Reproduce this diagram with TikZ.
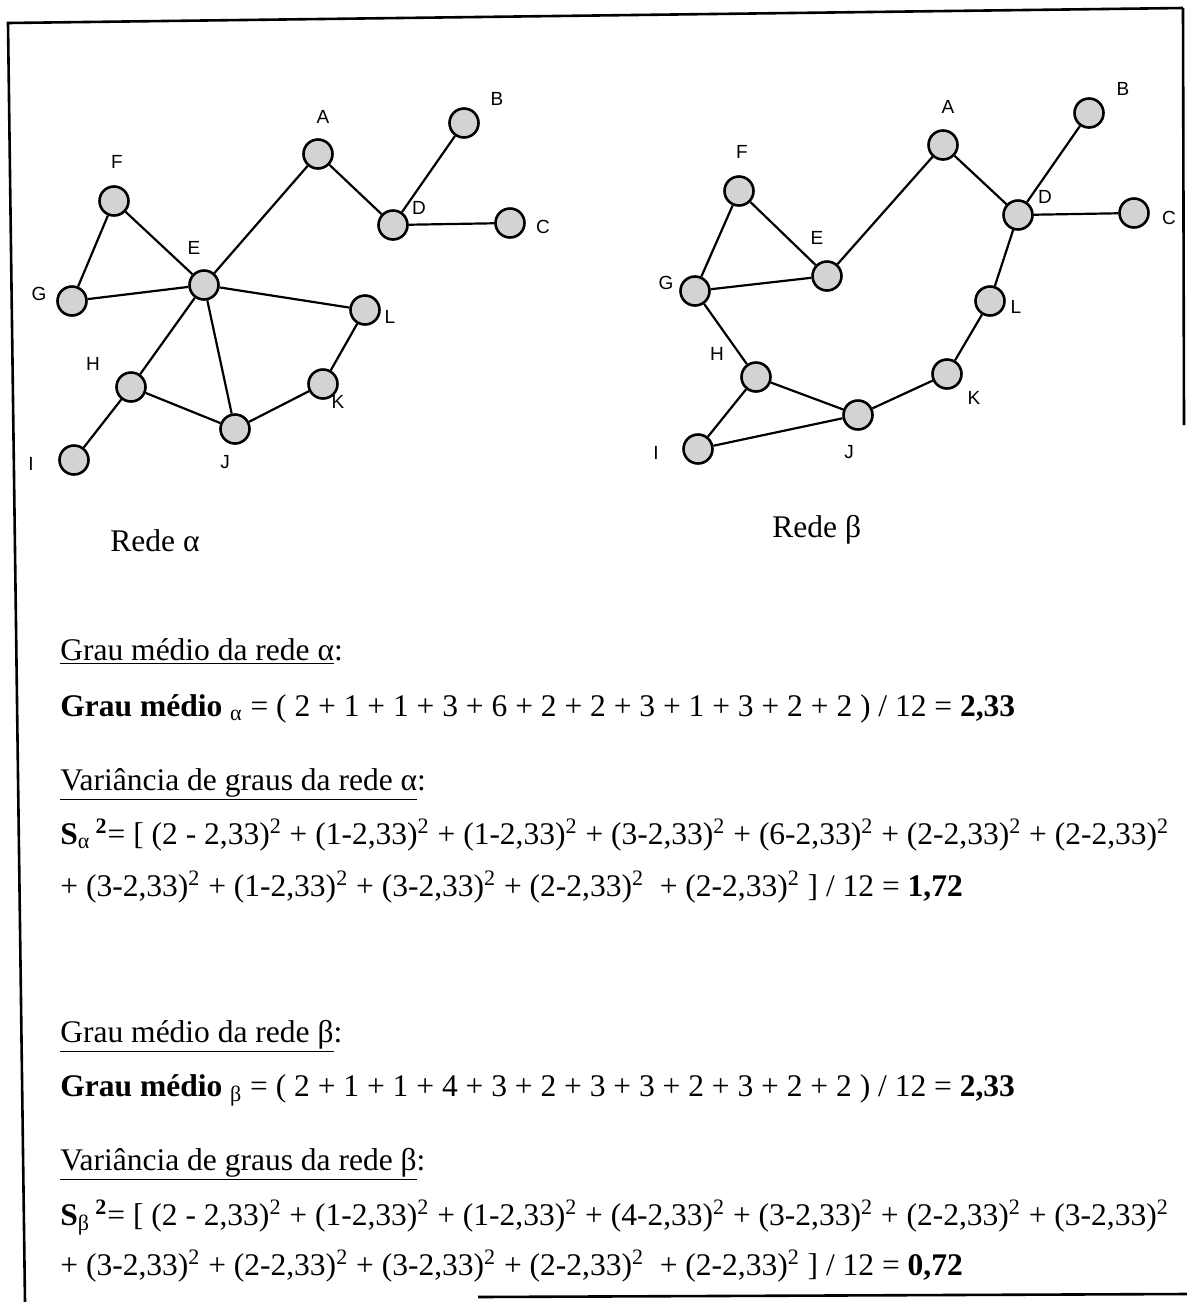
\documentclass[tikz,border=0pt]{standalone}
\usepackage{fontspec}
\setmainfont{Liberation Serif}
\newfontfamily\labelfont{Liberation Sans}
\usepackage{tikz}
\usetikzlibrary{positioning}
\definecolor{nodeGray}{HTML}{D3D3D3}
\newcommand{\sq}{\textsuperscript{2}}

\begin{document}
\begin{tikzpicture}[
  x=0.5pt, y=-0.5pt,
  vertex/.style={circle, draw=black, fill=nodeGray, line width=1.3pt, minimum size=14.5pt, inner sep=0pt},
  lbl/.style={font=\labelfont\fontsize{9.5}{11}\selectfont, inner sep=0pt},
  edge/.style={line width=1.1pt},
  txt/.style={anchor=base west, inner sep=0pt, font=\fontsize{15.75}{18}\selectfont},
  frameline/.style={line width=1.3pt}
]
\useasboundingbox (0,0) rectangle (1187,1302);

% ---------- frame ----------
\draw[frameline] (25,1302) -- (8,23) -- (1183,8);
\draw[frameline] (1183,8) -- (1184,425);
\draw[frameline] (478,1297) -- (1187,1294);

% ---------- REDE ALPHA ----------
\node[vertex] (aA) at (318,154) {};
\node[vertex] (aB) at (464,123) {};
\node[vertex] (aC) at (510,223) {};
\node[vertex] (aD) at (393,225) {};
\node[vertex] (aE) at (204,285) {};
\node[vertex] (aF) at (114,201) {};
\node[vertex] (aG) at (72,301) {};
\node[vertex] (aH) at (131,387) {};
\node[vertex] (aI) at (74,460) {};
\node[vertex] (aJ) at (235,429) {};
\node[vertex] (aK) at (323,384) {};
\node[vertex] (aL) at (365,310) {};

\node[lbl] (aAt) at (323,117) {A};
\node[lbl] (aBt) at (497,99) {B};
\node[lbl] (aCt) at (543,227) {C};
\node[lbl] (aDt) at (419,208) {D};
\node[lbl] (aEt) at (194,248) {E};
\node[lbl] (aFt) at (117,162) {F};
\node[lbl] (aGt) at (39,294) {G};
\node[lbl] (aHt) at (93,364) {H};
\node[lbl] (aIt) at (31,464) {I};
\node[lbl] (aJt) at (225,462) {J};
\node[lbl] (aKt) at (338,402) {K};
\node[lbl] (aLt) at (390,317) {L};

\draw[edge] (aA) -- (aE);
\draw[edge] (aA) -- (aD);
\draw[edge] (aB) -- (aD);
\draw[edge] (aD) -- (aC);
\draw[edge] (aF) -- (aG);
\draw[edge] (aF) -- (aE);
\draw[edge] (aG) -- (aE);
\draw[edge] (aE) -- (aL);
\draw[edge] (aE) -- (aH);
\draw[edge] (aE) -- (aJ);
\draw[edge] (aL) -- (aK);
\draw[edge] (aK) -- (aJ);
\draw[edge] (aH) -- (aJ);
\draw[edge] (aH) -- (aI);

\node[txt] (aName) at (110,551) {Rede α};

% ---------- REDE BETA ----------
\node[vertex] (bA) at (943,145) {};
\node[vertex] (bB) at (1089,113) {};
\node[vertex] (bC) at (1134,213) {};
\node[vertex] (bD) at (1018,215) {};
\node[vertex] (bE) at (827,276) {};
\node[vertex] (bF) at (739,191) {};
\node[vertex] (bG) at (695,291) {};
\node[vertex] (bH) at (756,377) {};
\node[vertex] (bI) at (698,449) {};
\node[vertex] (bJ) at (858,415) {};
\node[vertex] (bK) at (947,374) {};
\node[vertex] (bL) at (990,301) {};

\node[lbl] (bAt) at (948,107) {A};
\node[lbl] (bBt) at (1123,89) {B};
\node[lbl] (bCt) at (1169,218) {C};
\node[lbl] (bDt) at (1045,197) {D};
\node[lbl] (bEt) at (817,238) {E};
\node[lbl] (bFt) at (742,152) {F};
\node[lbl] (bGt) at (666,283) {G};
\node[lbl] (bHt) at (717,354) {H};
\node[lbl] (bIt) at (656,453) {I};
\node[lbl] (bJt) at (849,452) {J};
\node[lbl] (bKt) at (974,398) {K};
\node[lbl] (bLt) at (1016,307) {L};

\draw[edge] (bF) -- (bG);
\draw[edge] (bF) -- (bE);
\draw[edge] (bG) -- (bE);
\draw[edge] (bE) -- (bA);
\draw[edge] (bA) -- (bD);
\draw[edge] (bB) -- (bD);
\draw[edge] (bD) -- (bC);
\draw[edge] (bD) -- (bL);
\draw[edge] (bL) -- (bK);
\draw[edge] (bK) -- (bJ);
\draw[edge] (bJ) -- (bH);
\draw[edge] (bH) -- (bG);
\draw[edge] (bH) -- (bI);
\draw[edge] (bI) -- (bJ);

\node[txt] (bName) at (772,537) {Rede β};

% ---------- grau medio / variancia (alpha) ----------
\node[txt] (aMeanHd) at (60,660) {\underline{Grau médio da rede α}:};
\node[txt] (aMean) at (60,716) {\textbf{Grau médio} \textsubscript{α} = ( 2 + 1 + 1 + 3 + 6 + 2 + 2 + 3 + 1 + 3 + 2 + 2 ) / 12 = \textbf{2,33}};
\node[txt] (aVarHd) at (60,790) {\underline{Variância de graus da rede α}:};
\node[txt] (aVar1) at (60,844) {\textbf{S}\textsubscript{α}\,\textsuperscript{\textbf{2}}= [ (2 - 2,33)\sq{} + (1-2,33)\sq{} + (1-2,33)\sq{} + (3-2,33)\sq{} + (6-2,33)\sq{} + (2-2,33)\sq{} + (2-2,33)\sq};
\node[txt] (aVar2) at (60,896) {+ (3-2,33)\sq{} + (1-2,33)\sq{} + (3-2,33)\sq{} + (2-2,33)\sq{}\ \ + (2-2,33)\sq{} ] / 12 = \textbf{1,72}};

% ---------- grau medio / variancia (beta) ----------
\node[txt] (bMeanHd) at (60,1042) {\underline{Grau médio da rede β}:};
\node[txt] (bMean) at (60,1096) {\textbf{Grau médio} \textsubscript{β} = ( 2 + 1 + 1 + 4 + 3 + 2 + 3 + 3 + 2 + 3 + 2 + 2 ) / 12 = \textbf{2,33}};
\node[txt] (bVarHd) at (60,1170) {\underline{Variância de graus da rede β}:};
\node[txt] (bVar1) at (60,1225) {\textbf{S}\textsubscript{β}\,\textsuperscript{\textbf{2}}= [ (2 - 2,33)\sq{} + (1-2,33)\sq{} + (1-2,33)\sq{} + (4-2,33)\sq{} + (3-2,33)\sq{} + (2-2,33)\sq{} + (3-2,33)\sq};
\node[txt] (bVar2) at (60,1275) {+ (3-2,33)\sq{} + (2-2,33)\sq{} + (3-2,33)\sq{} + (2-2,33)\sq{}\ \ + (2-2,33)\sq{} ] / 12 = \textbf{0,72}};

\end{tikzpicture}
\end{document}
